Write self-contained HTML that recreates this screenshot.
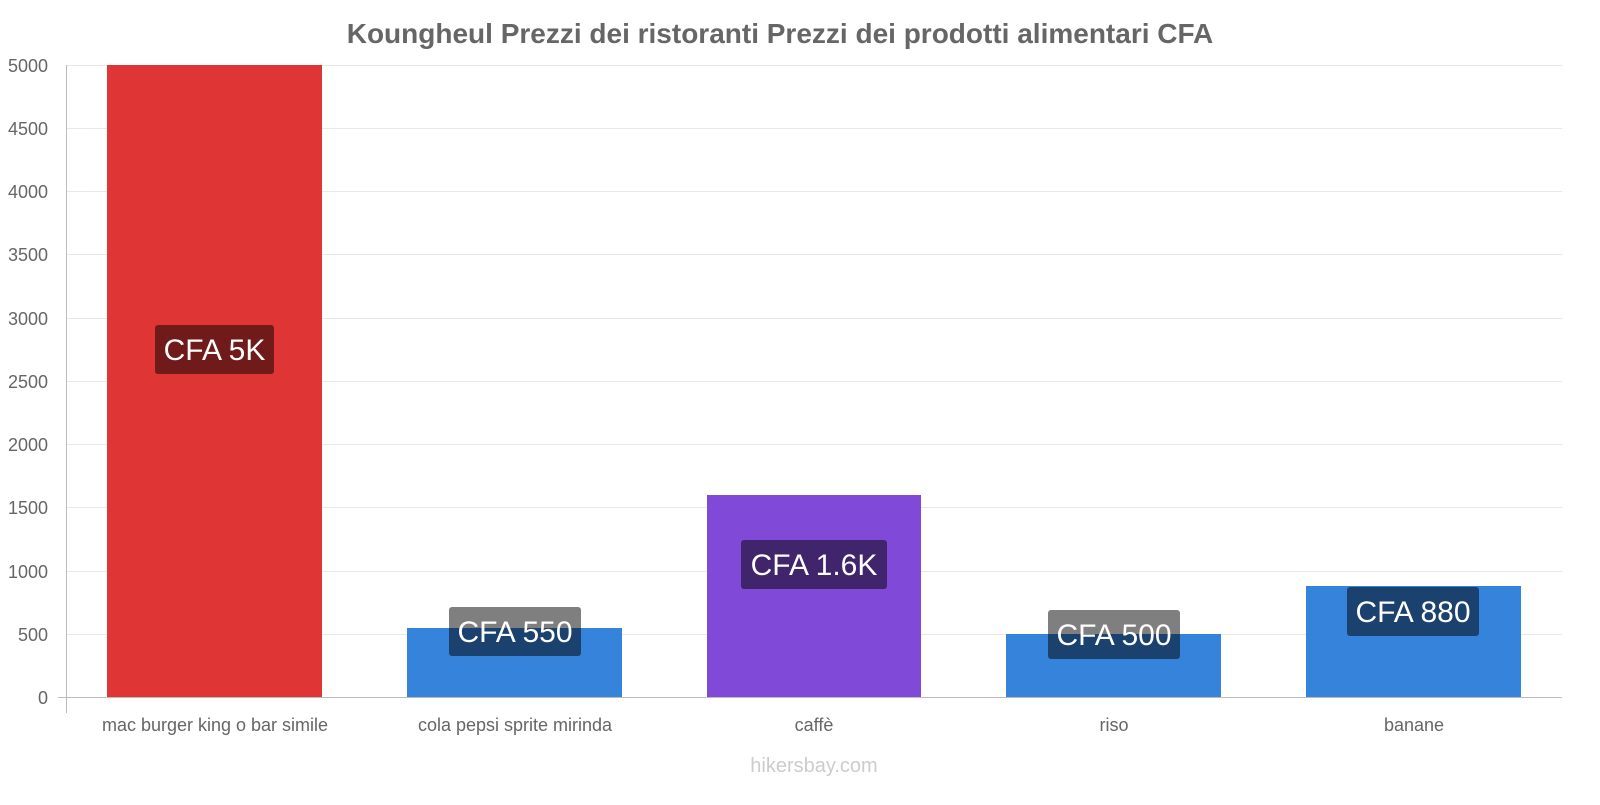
<!DOCTYPE html>
<html><head><meta charset="utf-8"><style>
body{margin:0;background:#fff;width:1600px;height:800px;overflow:hidden}
svg text{font-family:"Liberation Sans",sans-serif}
</style></head><body>
<svg width="1600" height="800" xmlns="http://www.w3.org/2000/svg">
<text x="780" y="43" text-anchor="middle" font-size="28" font-weight="bold" fill="#666">Koungheul Prezzi dei ristoranti Prezzi dei prodotti alimentari CFA</text>
<g stroke="#e8e8e8" stroke-width="1">
<line x1="66" x2="1562" y1="65.5" y2="65.5"/><line x1="66" x2="1562" y1="128.5" y2="128.5"/><line x1="66" x2="1562" y1="191.5" y2="191.5"/><line x1="66" x2="1562" y1="254.5" y2="254.5"/><line x1="66" x2="1562" y1="318.5" y2="318.5"/><line x1="66" x2="1562" y1="381.5" y2="381.5"/><line x1="66" x2="1562" y1="444.5" y2="444.5"/><line x1="66" x2="1562" y1="507.5" y2="507.5"/><line x1="66" x2="1562" y1="571.5" y2="571.5"/><line x1="66" x2="1562" y1="634.5" y2="634.5"/>
</g>
<g font-size="18" fill="#666" text-anchor="end">
<text x="48" y="72">5000</text><text x="48" y="135">4500</text><text x="48" y="198">4000</text><text x="48" y="261">3500</text><text x="48" y="325">3000</text><text x="48" y="388">2500</text><text x="48" y="451">2000</text><text x="48" y="514">1500</text><text x="48" y="578">1000</text><text x="48" y="641">500</text><text x="48" y="704">0</text>
</g>
<rect x="107" y="65" width="215" height="632" fill="#e03535"/>
<rect x="407" y="628" width="215" height="69" fill="#3683dc"/>
<rect x="707" y="495" width="214" height="202" fill="#8049d8"/>
<rect x="1006" y="634" width="215" height="63" fill="#3683dc"/>
<rect x="1306" y="586" width="215" height="111" fill="#3683dc"/>
<line x1="66.5" x2="66.5" y1="65" y2="713" stroke="#bbb"/>
<line x1="58" x2="1562" y1="697.5" y2="697.5" stroke="#bbb"/>
<g fill="rgba(0,0,0,0.5)">
<rect x="155" y="325" width="119" height="49" rx="3"/>
<rect x="449" y="607" width="132" height="49" rx="3"/>
<rect x="741" y="540" width="146" height="49" rx="3"/>
<rect x="1048" y="610" width="132" height="49" rx="3"/>
<rect x="1347" y="587" width="132" height="49" rx="3"/>
</g>
<g font-size="30" fill="#fff" text-anchor="middle">
<text x="214.5" y="360">CFA 5K</text>
<text x="515" y="642">CFA 550</text>
<text x="814" y="575">CFA 1.6K</text>
<text x="1114" y="645">CFA 500</text>
<text x="1413" y="622">CFA 880</text>
</g>
<g font-size="18" fill="#666" text-anchor="middle">
<text x="215" y="731">mac burger king o bar simile</text>
<text x="515" y="731">cola pepsi sprite mirinda</text>
<text x="814" y="731">caffè</text>
<text x="1114" y="731">riso</text>
<text x="1414" y="731">banane</text>
</g>
<text x="814" y="772" font-size="20" fill="#ccc" text-anchor="middle">hikersbay.com</text>
</svg>
</body></html>
